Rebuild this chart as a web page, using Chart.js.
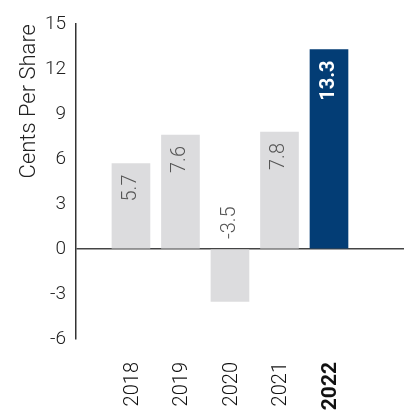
<!DOCTYPE html>
<html>
<head>
<meta charset="utf-8">
<script src="https://cdn.jsdelivr.net/npm/chart.js@4"></script>
<style>
  html, body { margin: 0; padding: 0; background: #fff; }
  #wrap { width: 408px; height: 419px; }
</style>
</head>
<body>
<div id="wrap"><canvas id="epsChart"></canvas></div>
<script>
const years = [2018, 2019, 2020, 2021, 2022];
const centsPerShare = [5.7, 7.6, -3.5, 7.8, 13.3];
const yTicks = [-6, -3, 0, 3, 6, 9, 12, 15];
const highlightYear = 2022;

const FONT = 'Roboto, "Liberation Sans", Arial, sans-serif';
const GREY_BAR = '#dcdcde';
const NAVY = '#033d75';
const INK = '#222';

// rotated value labels: at the top of positive bars, above the zero line for negatives
const valueLabels = {
  id: 'valueLabels',
  afterDatasetsDraw(chart) {
    const ctx = chart.ctx;
    const meta = chart.getDatasetMeta(0);
    const zeroY = chart.scales.y.getPixelForValue(0);
    meta.data.forEach((bar, i) => {
      const v = centsPerShare[i];
      const hi = years[i] === highlightYear;
      ctx.save();
      ctx.translate(bar.x, v >= 0 ? bar.y + 11 : zeroY - 10);
      ctx.rotate(-Math.PI / 2);
      ctx.font = (hi ? 'bold ' : '300 ') + '20px ' + FONT;
      ctx.fillStyle = hi ? '#fff' : '#555';
      ctx.textAlign = v >= 0 ? 'right' : 'left';
      ctx.textBaseline = 'middle';
      ctx.fillText(v.toFixed(1), 0, 0);
      ctx.restore();
    });
  }
};

new Chart(document.getElementById('epsChart'), {
  type: 'bar',
  data: {
    labels: years,
    datasets: [{
      data: centsPerShare,
      backgroundColor: years.map(y => y === highlightYear ? NAVY : GREY_BAR),
      barThickness: 38,
      borderWidth: 0
    }]
  },
  options: {
    responsive: true,
    maintainAspectRatio: false,
    animation: false,
    layout: { padding: { left: 16, right: 4, top: 24, bottom: 0 } },
    plugins: { legend: { display: false }, tooltip: { enabled: false } },
    scales: {
      x: {
        type: 'linear',
        offset: false,
        min: 2016.89,
        max: 2023.515,
        grid: { display: false, drawTicks: false },
        border: { display: false },
        afterBuildTicks: axis => { axis.ticks = years.map(v => ({ value: v })); },
        afterFit: axis => { axis.height = 80; },
        ticks: {
          autoSkip: false,
          minRotation: 90,
          maxRotation: 90,
          padding: 23,
          labelOffset: 2,
          color: '#111',
          callback: v => String(v),
          font: c => ({
            family: FONT,
            size: c.tick && c.tick.value === highlightYear ? 21 : 20,
            weight: c.tick && c.tick.value === highlightYear ? 'bold' : '300'
          })
        }
      },
      y: {
        min: -6,
        max: 15,
        afterBuildTicks: axis => { axis.ticks = yTicks.map(v => ({ value: v })); },
        afterFit: axis => { axis.width = 60; },
        border: { display: true, color: '#333', width: 1.5 },
        grid: {
          drawTicks: false,
          lineWidth: 1.5,
          color: c => c.tick && c.tick.value === 0 ? '#444' : 'rgba(0,0,0,0)'
        },
        ticks: {
          padding: 10,
          color: INK,
          font: { family: FONT, size: 19, weight: '300' }
        },
        title: {
          display: true,
          text: 'Cents Per Share',
          align: 'end',
          color: INK,
          padding: { top: 0, bottom: 4 },
          font: { family: FONT, size: 22, weight: '300' }
        }
      }
    }
  },
  plugins: [valueLabels]
});
</script>
</body>
</html>
